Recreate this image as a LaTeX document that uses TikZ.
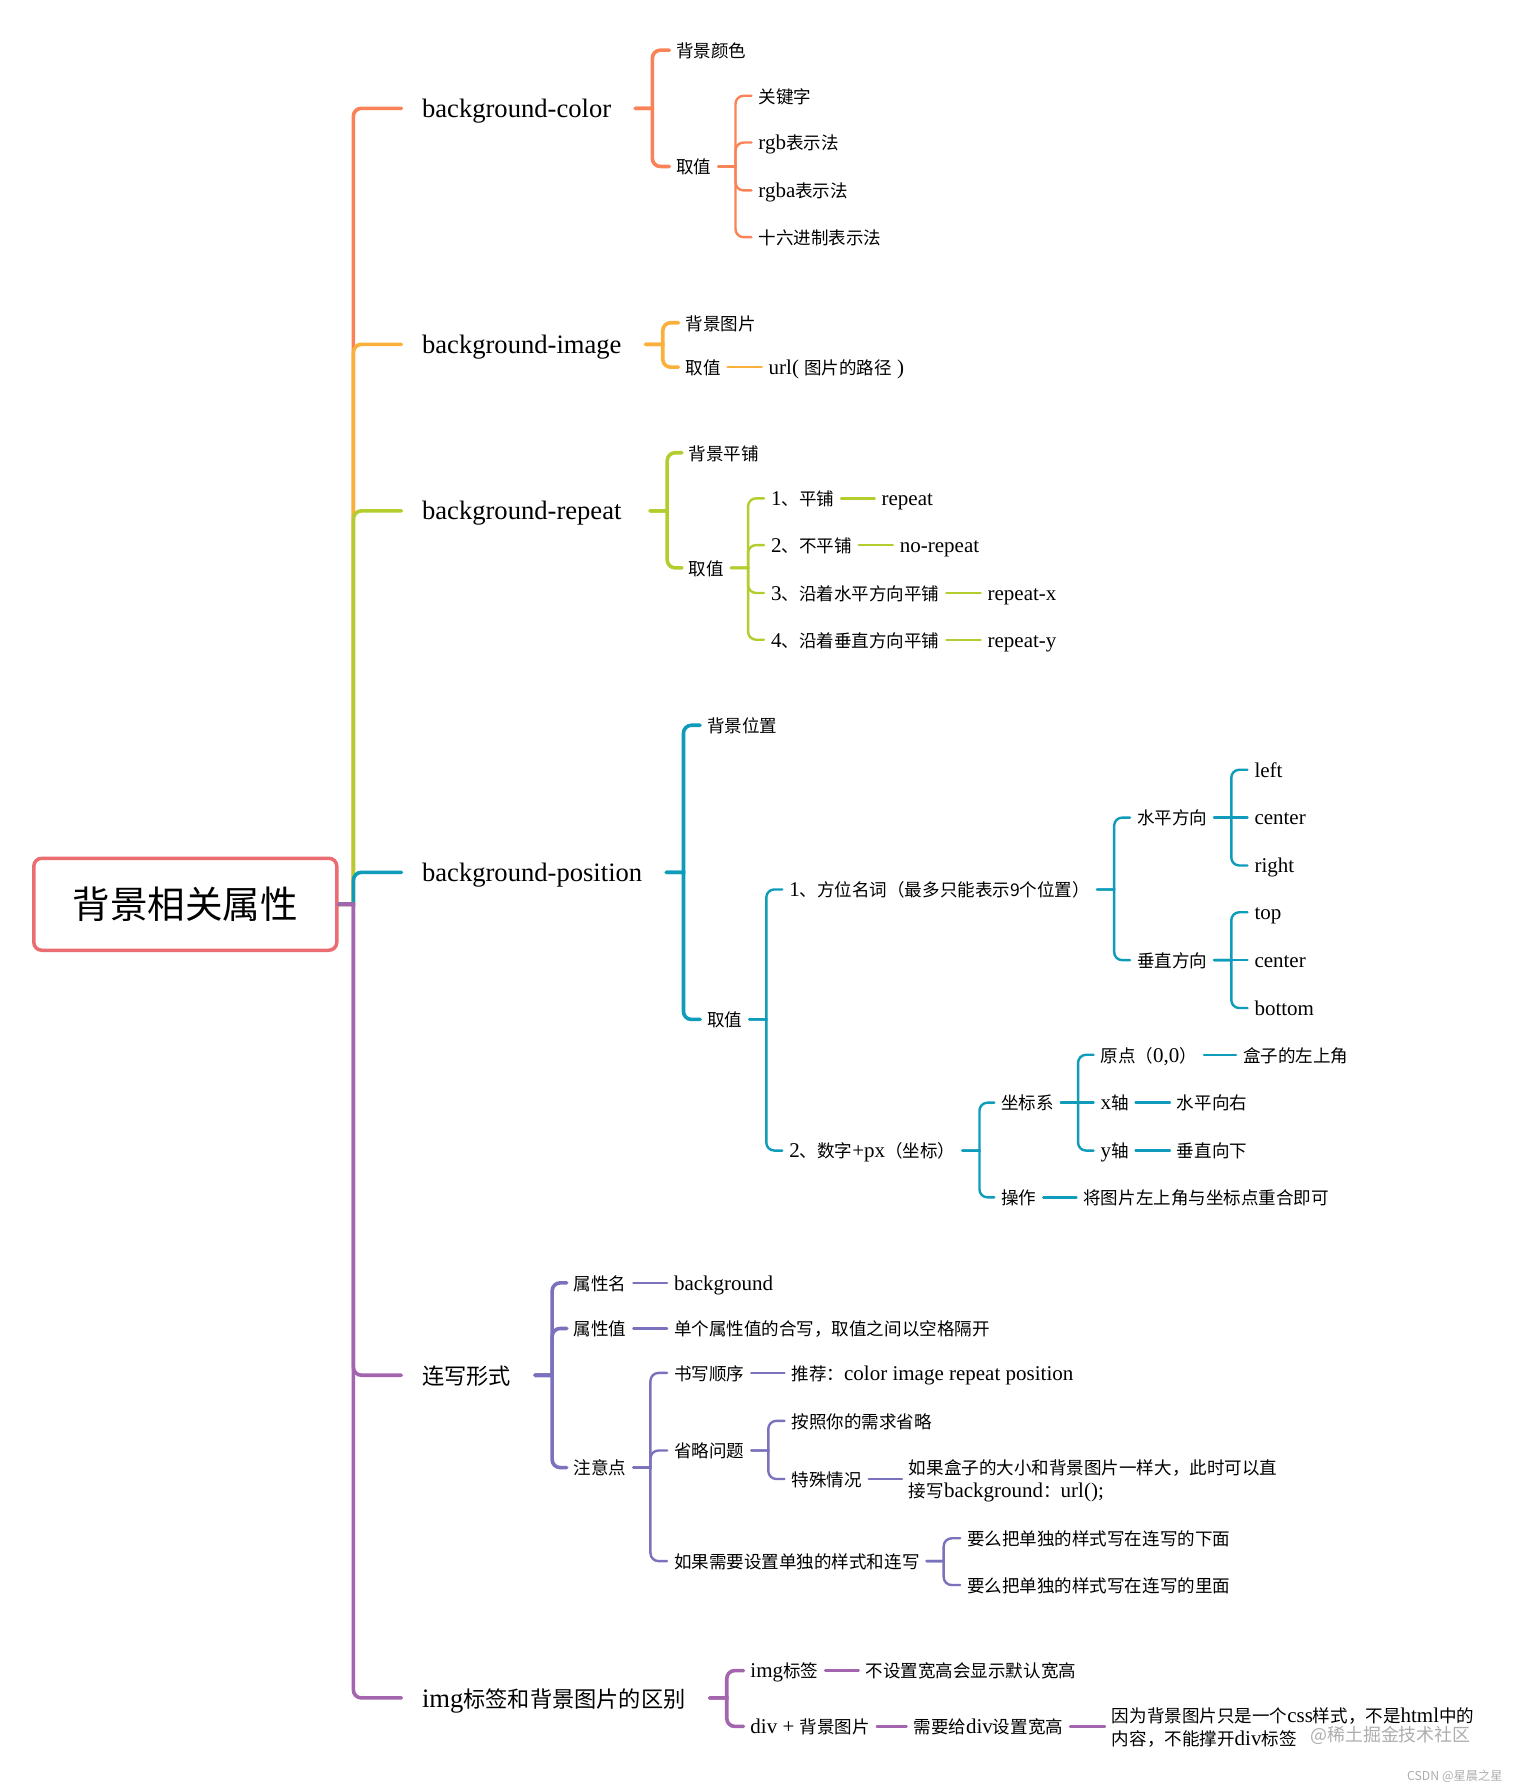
\documentclass[tikz,border=0pt]{standalone}
\usepackage{fontspec}
\setmainfont{Liberation Serif}
\newfontfamily\cjkfont[Scale=0.835]{Noto Sans CJK SC}
\newcommand{\zh}[1]{{\cjkfont #1}}
\usetikzlibrary{positioning}
\definecolor{rootred}{HTML}{E96D71}
\definecolor{coral}{HTML}{FA8257}
\definecolor{amber}{HTML}{FBB03B}
\definecolor{lime}{HTML}{B3CC2E}
\definecolor{teal}{HTML}{0E9CBA}
\definecolor{lavender}{HTML}{7A72BC}
\definecolor{violet}{HTML}{A365AE}

\begin{document}
\begin{tikzpicture}[
    x=1.1403pt, y=-1.1403pt,
    rootbox/.style={rectangle, draw=rootred, line width=3.5pt, rounded corners=8pt, minimum width=303pt, minimum height=92pt, font=\fontsize{45}{50}\selectfont},
    topic/.style={anchor=west, inner xsep=20.5pt, inner ysep=0pt, text height=22.6pt, text depth=4.4pt, execute at end node={\hspace*{3.4pt}}, font=\fontsize{26.6}{30}\selectfont},
    leaf/.style={anchor=west, inner xsep=6.8pt, inner ysep=0pt, text height=17.3pt, text depth=2.7pt, align=left, font=\fontsize{21}{22.8}\selectfont},
    twoline/.style={leaf, text height=40pt, text depth=2.6pt},
    wide/.style={line width=3.6pt, line cap=round},
    thin link/.style={line width=2.4pt, line cap=round},
    elbow/.style={to path={-- ++(#1,0) [rounded corners=8pt] |- (\tikztotarget.west)}},
    elbow/.default=15,
    watermark/.style={text=black!32, inner sep=0pt}
]
\useasboundingbox (0,0) rectangle (1326,1568);

% Root
\node[rootbox] (root) at (162.5,793) {\zh{背景相关属性}};

% background-color
\node[topic] (color) at (352,95) {background-color};
\node[leaf] (colorname) at (587,44) {\zh{背景颜色}};
\node[leaf] (colorval) at (587,146) {\zh{取值}};
\node[leaf] (keyword) at (659,84) {\zh{关键字}};
\node[leaf] (rgb) at (659,125) {rgb\zh{表示法}};
\node[leaf] (rgba) at (659,167) {rgba\zh{表示法}};
\node[leaf] (hex) at (659,208) {\zh{十六进制表示法}};

\draw[wide, coral] (root.east) to[elbow=13] (color);
\draw[wide, coral] (color.east) to[elbow] (colorname);
\draw[wide, coral] (color.east) to[elbow] (colorval);
\draw[thin link, coral] (colorval.east) to[elbow] (keyword);
\draw[thin link, coral] (colorval.east) to[elbow] (rgb);
\draw[thin link, coral] (colorval.east) to[elbow] (rgba);
\draw[thin link, coral] (colorval.east) to[elbow] (hex);

% background-image
\node[topic] (image) at (352,302) {background-image};
\node[leaf] (imagename) at (595,283) {\zh{背景图片}};
\node[leaf] (imageval) at (595,322) {\zh{取值}};
\node[leaf] (url) at (668,322) {url( \zh{图片的路径} )};

\draw[wide, amber] (root.east) to[elbow=13] (image);
\draw[wide, amber] (image.east) to[elbow] (imagename);
\draw[wide, amber] (image.east) to[elbow] (imageval);
\draw[thin link, amber] (imageval.east) -- (url.west);

% background-repeat
\node[topic] (repeat) at (352,448) {background-repeat\hspace*{4.5pt}};
\node[leaf] (repeatname) at (598,397) {\zh{背景平铺}};
\node[leaf] (repeatval) at (598,498) {\zh{取值}};
\node[leaf] (tile) at (670,437) {1\zh{、平铺}};
\node[leaf] (notile) at (670,478) {2\zh{、不平铺}};
\node[leaf] (tilex) at (670,520) {3\zh{、沿着水平方向平铺}};
\node[leaf] (tiley) at (670,561) {4\zh{、沿着垂直方向平铺}};
\node[leaf] (kwrepeat) at (767,437) {repeat};
\node[leaf] (kwnorepeat) at (783,478) {no-repeat};
\node[leaf] (kwrepeatx) at (860,520) {repeat-x};
\node[leaf] (kwrepeaty) at (860,561) {repeat-y};

\draw[wide, lime] (root.east) to[elbow=13] (repeat);
\draw[wide, lime] (repeat.east) to[elbow] (repeatname);
\draw[wide, lime] (repeat.east) to[elbow] (repeatval);
\draw[thin link, lime] (repeatval.east) to[elbow] (tile);
\draw[thin link, lime] (repeatval.east) to[elbow] (notile);
\draw[thin link, lime] (repeatval.east) to[elbow] (tilex);
\draw[thin link, lime] (repeatval.east) to[elbow] (tiley);
\draw[thin link, lime] (tile.east) -- (kwrepeat.west);
\draw[thin link, lime] (notile.east) -- (kwnorepeat.west);
\draw[thin link, lime] (tilex.east) -- (kwrepeatx.west);
\draw[thin link, lime] (tiley.east) -- (kwrepeaty.west);

% background-position
\node[topic] (position) at (352,765) {background-position};
\node[leaf] (posname) at (614,636) {\zh{背景位置}};
\node[leaf] (posval) at (614,894) {\zh{取值}};
\node[leaf] (word) at (686,780) {1\zh{、方位名词（最多只能表示9个位置）}};
\node[leaf] (coord) at (686,1009) {2\zh{、数字}+px\zh{（坐标）}};
\node[leaf] (horiz) at (991,717) {\zh{水平方向}};
\node[leaf] (vert) at (991,842) {\zh{垂直方向}};
\node[leaf] (left) at (1094,675) {left};
\node[leaf] (hcenter) at (1094,717) {center};
\node[leaf] (right) at (1094,759) {right};
\node[leaf] (top) at (1094,800) {top};
\node[leaf] (vcenter) at (1094,842) {center};
\node[leaf] (bottom) at (1094,884) {bottom};
\node[leaf] (system) at (872,967) {\zh{坐标系}};
\node[leaf] (operate) at (872,1050) {\zh{操作}};
\node[leaf] (origin) at (959,925) {\zh{原点（}0,0\zh{）}};
\node[leaf] (xaxis) at (959,967) {x\zh{轴}};
\node[leaf] (yaxis) at (959,1009) {y\zh{轴}};
\node[leaf] (corner) at (1084,925) {\zh{盒子的左上角}};
\node[leaf] (xdir) at (1026,967) {\zh{水平向右}};
\node[leaf] (ydir) at (1026,1009) {\zh{垂直向下}};
\node[leaf] (overlap) at (944,1050) {\zh{将图片左上角与坐标点重合即可}};

\draw[wide, teal] (root.east) to[elbow=13] (position);
\draw[wide, teal] (position.east) to[elbow] (posname);
\draw[wide, teal] (position.east) to[elbow] (posval);
\draw[thin link, teal] (posval.east) to[elbow] (word);
\draw[thin link, teal] (posval.east) to[elbow] (coord);
\draw[thin link, teal] (word.east) to[elbow] (horiz);
\draw[thin link, teal] (word.east) to[elbow] (vert);
\draw[thin link, teal] (horiz.east) to[elbow] (left);
\draw[thin link, teal] (horiz.east) -- (hcenter.west);
\draw[thin link, teal] (horiz.east) to[elbow] (right);
\draw[thin link, teal] (vert.east) to[elbow] (top);
\draw[thin link, teal] (vert.east) -- (vcenter.west);
\draw[thin link, teal] (vert.east) to[elbow] (bottom);
\draw[thin link, teal] (coord.east) to[elbow] (system);
\draw[thin link, teal] (coord.east) to[elbow] (operate);
\draw[thin link, teal] (system.east) to[elbow] (origin);
\draw[thin link, teal] (system.east) -- (xaxis.west);
\draw[thin link, teal] (system.east) to[elbow] (yaxis);
\draw[thin link, teal] (origin.east) -- (corner.west);
\draw[thin link, teal] (xaxis.east) -- (xdir.west);
\draw[thin link, teal] (yaxis.east) -- (ydir.west);
\draw[thin link, teal] (operate.east) -- (overlap.west);

% shorthand
\node[topic] (short) at (352,1206) {\zh{连写形式}};
\node[leaf] (propname) at (497,1125) {\zh{属性名}};
\node[leaf] (propval) at (497,1165) {\zh{属性值}};
\node[leaf] (notes) at (497,1287) {\zh{注意点}};
\node[leaf] (kwbg) at (585,1125) {background};
\node[leaf] (merged) at (585,1165) {\zh{单个属性值的合写，取值之间以空格隔开}};
\node[leaf] (order) at (585,1204) {\zh{书写顺序}};
\node[leaf] (omit) at (585,1272) {\zh{省略问题}};
\node[leaf] (single) at (585,1369) {\zh{如果需要设置单独的样式和连写}};
\node[leaf] (advice) at (688,1204) {\zh{推荐：}color image repeat position};
\node[leaf] (needs) at (688,1246) {\zh{按照你的需求省略}};
\node[leaf] (special) at (688,1297) {\zh{特殊情况}};
\node[twoline] (samesize) at (791,1297) {\zh{如果盒子的大小和背景图片一样大，此时可以直}\\\zh{接写}background\zh{：}url();};
\node[leaf] (below) at (842,1349) {\zh{要么把单独的样式写在连写的下面}};
\node[leaf] (inside) at (842,1390) {\zh{要么把单独的样式写在连写的里面}};

\draw[wide, lavender] (short.east) to[elbow] (propname);
\draw[wide, lavender] (short.east) to[elbow] (propval);
\draw[wide, lavender] (short.east) to[elbow] (notes);
\draw[thin link, lavender] (propname.east) -- (kwbg.west);
\draw[thin link, lavender] (propval.east) -- (merged.west);
\draw[thin link, lavender] (notes.east) to[elbow] (order);
\draw[thin link, lavender] (notes.east) to[elbow] (omit);
\draw[thin link, lavender] (notes.east) to[elbow] (single);
\draw[thin link, lavender] (order.east) -- (advice.west);
\draw[thin link, lavender] (omit.east) to[elbow] (needs);
\draw[thin link, lavender] (omit.east) to[elbow] (special);
\draw[thin link, lavender] (special.east) -- (samesize.west);
\draw[thin link, lavender] (single.east) to[elbow] (below);
\draw[thin link, lavender] (single.east) to[elbow] (inside);

% img versus background
\node[topic] (imgdiff) at (352,1489) {img\zh{标签和背景图片的区别}};
\node[leaf] (imgtag) at (652,1465) {img\zh{标签}};
\node[leaf] (divbg) at (652,1514) {div + \zh{背景图片}};
\node[leaf] (defaultsize) at (753,1465) {\zh{不设置宽高会显示默认宽高}};
\node[leaf] (setsize) at (795,1514) {\zh{需要给}div\zh{设置宽高}};
\node[twoline] (reason) at (969,1514) {\zh{因为背景图片只是一个}css\zh{样式，不是}html\zh{中的}\\\zh{内容，不能撑开}div\zh{标签}};

\draw[wide, violet] (root.east) to[elbow=13] (imgdiff);
\draw[wide, violet] (root.east) to[elbow=13] (short);
\draw[wide, violet] (imgdiff.east) to[elbow] (imgtag);
\draw[wide, violet] (imgdiff.east) to[elbow] (divbg);
\draw[thin link, violet] (imgtag.east) -- (defaultsize.west);
\draw[thin link, violet] (divbg.east) -- (setsize.west);
\draw[thin link, violet] (setsize.east) -- (reason.west);

% Watermarks
\node[watermark, anchor=east, font=\fontsize{21.5}{24}\selectfont] (juejin) at (1290,1522) {\zh{@稀土掘金技术社区}};
\node[watermark, anchor=east, font=\fontsize{14.7}{16}\selectfont] (csdn) at (1318,1558) {\zh{CSDN @星晨之星}};

\end{tikzpicture}
\end{document}
